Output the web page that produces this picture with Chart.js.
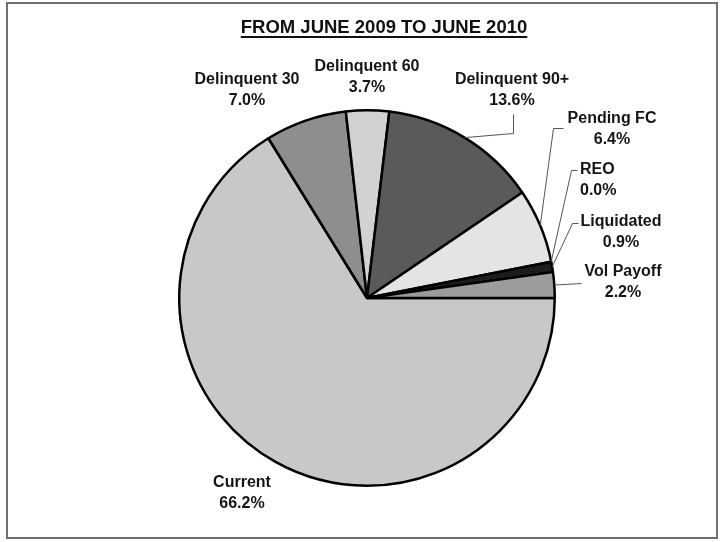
<!DOCTYPE html>
<html lang="en">
<head>
  <meta charset="UTF-8" />
  <title>From June 2009 to June 2010</title>
  <script src="https://cdn.jsdelivr.net/npm/chart.js"></script>
  <style>
    html, body {
      margin: 0;
      padding: 0;
      background: #ffffff;
    }
    #wrap {
      width: 721px;
      height: 542px;
    }
  </style>
</head>
<body>
  <div id="wrap"><canvas id="pieChart" width="721" height="542"></canvas></div>

  <script>
    // data
    const categories = ["Current", "Delinquent 30", "Delinquent 60", "Delinquent 90+",
                        "Pending FC", "REO", "Liquidated", "Vol Payoff"];
    const shares = [66.2, 7.0, 3.7, 13.6, 6.4, 0.0, 0.9, 2.2];
    const sliceColors = ["#c8c8c8", "#8e8e8e", "#d2d2d2", "#5a5a5a",
                         "#e4e4e4", "#bbbbbb", "#1c1c1c", "#9c9c9c"];
    const chartTitle = "FROM JUNE 2009 TO JUNE 2010";

    // where each label sits, relative to the pie centre (px)
    const labelLayout = [
      { dx: -125, dy: 185, align: "center" },
      { dx: -120, dy: -218, align: "center" },
      { dx: 0,    dy: -231, align: "center" },
      { dx: 145,  dy: -218, align: "center", leader: [[146, -184], [146, -165]] },
      { dx: 245,  dy: -179, align: "center", leader: [[196, -170], [186, -170]] },
      { dx: 213,  dy: -128, align: "left",   leader: [[210, -128], [204, -128]] },
      { dx: 254,  dy: -76,  align: "center", leader: [[211, -75], [205, -75]] },
      { dx: 256,  dy: -26,  align: "center", leader: [[214, -15]] }
    ];

    const labelPlugin = {
      id: "pieLabels",
      beforeDraw(chart) {
        const ctx = chart.ctx;
        ctx.save();
        ctx.fillStyle = "#ffffff";
        ctx.fillRect(0, 0, chart.width, chart.height);
        // outer frame
        ctx.strokeStyle = "#707070";
        ctx.lineWidth = 2;
        ctx.strokeRect(7, 3, 710, 535);
        ctx.restore();
      },
      afterDraw(chart) {
        const ctx = chart.ctx;
        const arcs = chart.getDatasetMeta(0).data;
        const cx = arcs[0].x, cy = arcs[0].y;

        ctx.save();
        // title, bold + underlined
        ctx.font = "bold 18.5px 'Liberation Sans', Arial, sans-serif";
        ctx.fillStyle = "#111";
        ctx.textAlign = "center";
        ctx.textBaseline = "middle";
        ctx.fillText(chartTitle, 384, 28);
        const tw = ctx.measureText(chartTitle).width;
        ctx.fillRect(384 - tw / 2, 36, tw, 2);

        // leader lines
        ctx.strokeStyle = "#555";
        ctx.lineWidth = 1;
        arcs.forEach((arc, i) => {
          const lay = labelLayout[i];
          if (!lay.leader) return;
          const mid = (arc.startAngle + arc.endAngle) / 2;
          const ex = cx + Math.cos(mid) * arc.outerRadius;
          const ey = cy + Math.sin(mid) * arc.outerRadius;
          ctx.beginPath();
          lay.leader.forEach((p, k) => {
            if (k === 0) ctx.moveTo(cx + p[0] + 0.5, cy + p[1] + 0.5);
            else ctx.lineTo(cx + p[0] + 0.5, cy + p[1] + 0.5);
          });
          ctx.lineTo(ex, ey);
          ctx.stroke();
        });

        // labels
        ctx.font = "bold 16px 'Liberation Sans', Arial, sans-serif";
        ctx.fillStyle = "#151515";
        categories.forEach((name, i) => {
          const lay = labelLayout[i];
          ctx.textAlign = lay.align;
          ctx.fillText(name, cx + lay.dx, cy + lay.dy);
          ctx.fillText(shares[i].toFixed(1) + "%", cx + lay.dx, cy + lay.dy + 21);
        });
        ctx.restore();
      }
    };

    const ctx = document.getElementById("pieChart").getContext("2d");
    const pieChart = new Chart(ctx, {
      type: "pie",
      data: {
        labels: categories,
        datasets: [{
          data: shares,
          backgroundColor: sliceColors,
          borderColor: "#000000",
          borderWidth: 2.5
        }]
      },
      options: {
        responsive: false,
        animation: false,
        events: [],
        rotation: 90,
        layout: {
          padding: { left: 178, right: 165, top: 109, bottom: 55 }
        },
        plugins: {
          legend: { display: false },
          title: { display: false },
          tooltip: { enabled: false }
        }
      },
      plugins: [labelPlugin]
    });
  </script>
</body>
</html>
